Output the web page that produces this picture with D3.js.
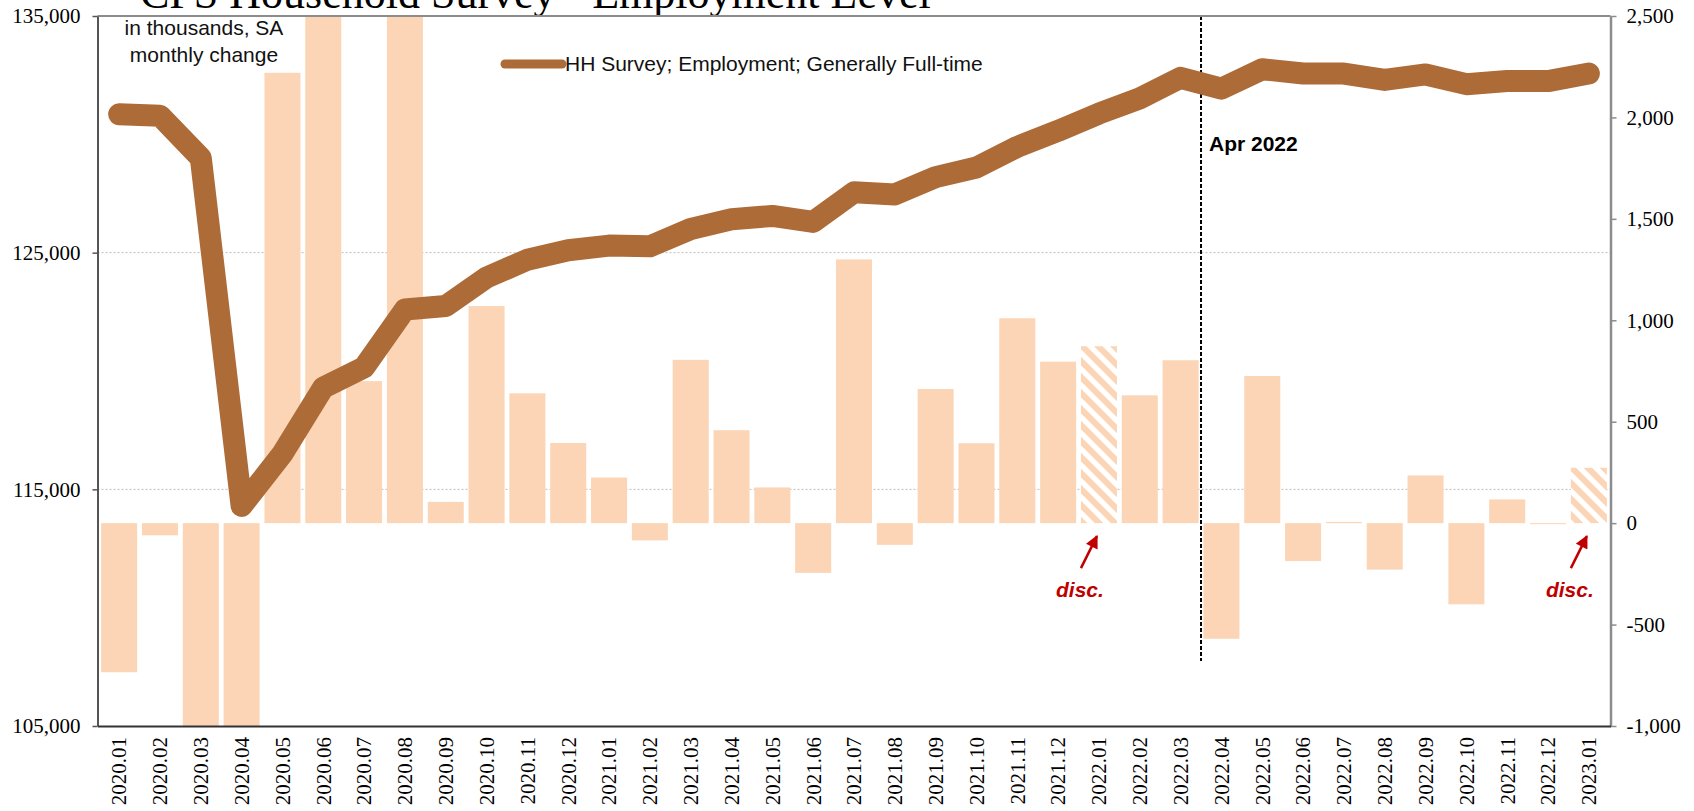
<!DOCTYPE html>
<html>
<head>
<meta charset="utf-8">
<script src="https://cdn.jsdelivr.net/npm/d3@7"></script>
<style>
  body { margin: 0; background: #fff; }
  svg { display: block; }
</style>
</head>
<body>
<script>
// months on the category axis
var months = ["2020.01","2020.02","2020.03","2020.04","2020.05","2020.06","2020.07","2020.08","2020.09","2020.10","2020.11","2020.12",
              "2021.01","2021.02","2021.03","2021.04","2021.05","2021.06","2021.07","2021.08","2021.09","2021.10","2021.11","2021.12",
              "2022.01","2022.02","2022.03","2022.04","2022.05","2022.06","2022.07","2022.08","2022.09","2022.10","2022.11","2022.12",
              "2023.01"];

// level, thousands (left axis)
var fullTime = [130850,130790,129000,114300,116500,119300,120150,122600,122750,123950,124700,125100,
                125300,125270,126000,126410,126550,126300,127550,127460,128190,128600,129470,130150,
                130880,131520,132390,131930,132750,132570,132570,132300,132530,132120,132250,132250,
                132570];

// monthly change, thousands (right axis) - 2020.03/04/06/08 run off the chart
var monthlyChange = [-735,-60,-1000,-1000,2220,2500,700,2500,105,1070,640,395,
                     225,-85,805,458,176,-245,1300,-107,661,394,1010,796,
                     872,630,803,-570,725,-187,6,-229,235,-400,117,-4,
                     273];

// months with a population-control discontinuity
var discMonths = ["2022.01","2023.01"];
var markerMonth = "2022.04";

var leftTicks = [105000,115000,125000,135000];
var rightTicks = [-1000,-500,0,500,1000,1500,2000,2500];
var gridTicks = [115000,125000];

var W = 1694, H = 811;
var plotL = 97.5, plotR = 1610.5, plotT = 16, plotB = 726;

var peach = "#FBD5B5", brown = "#AD6B37", red = "#C00000";

var svg = d3.select("body")
    .append("svg")
    .attr("width", W)
    .attr("height", H);

var defs = svg.append("defs");
var pat = defs.append("pattern")
    .attr("id", "hatch")
    .attr("patternUnits", "userSpaceOnUse")
    .attr("width", 16)
    .attr("height", 16);
pat.append("rect").attr("width", 16).attr("height", 16).attr("fill", "#fff");
pat.append("path")
    .attr("d", "M-4,-4L20,20M-4,12L4,20M12,-4L20,4")
    .attr("stroke", peach)
    .attr("stroke-width", 6);

defs.append("marker")
    .attr("id", "arrow")
    .attr("viewBox", "0 0 10 10")
    .attr("refX", 9)
    .attr("refY", 5)
    .attr("markerUnits", "userSpaceOnUse")
    .attr("markerWidth", 14)
    .attr("markerHeight", 13)
    .attr("orient", "auto")
    .append("path")
    .attr("d", "M0,0L10,5L0,10z")
    .attr("fill", red);

var x = d3.scaleBand()
    .domain(months)
    .range([plotL, plotR])
    .paddingInner(0.118)
    .paddingOuter(0.089);

var yL = d3.scaleLinear().domain([105000, 135000]).range([plotB, plotT]);
var yR = d3.scaleLinear().domain([-1000, 2500]).range([plotB, plotT]);

var commaFmt = function(d){ return d3.format(",")(d).replace("\u2212", "-"); };

// title (mostly above the page edge)
svg.append("text")
    .attr("x", 140)
    .attr("y", 8)
    .style("font-family", "'Liberation Serif', 'Times New Roman', serif")
    .style("font-size", "44px")
    .attr("fill", "#000")
    .text("CPS Household Survey - Employment Level");

// gridlines
svg.selectAll(".grid")
    .data(gridTicks)
    .enter()
    .append("line")
    .attr("x1", plotL).attr("x2", plotR)
    .attr("y1", d => yL(d)).attr("y2", d => yL(d))
    .attr("stroke", "#bdbdbd")
    .attr("stroke-width", 1)
    .attr("stroke-dasharray", "2,2");

var barData = months.map((m, i) => ({ m: m, v: monthlyChange[i] }));

svg.selectAll(".bar")
    .data(barData)
    .enter()
    .append("rect")
    .attr("class", "bar")
    .attr("x", d => x(d.m))
    .attr("width", x.bandwidth())
    .attr("y", d => yR(Math.max(0, d.v)))
    .attr("height", d => Math.max(1, Math.abs(yR(d.v) - yR(0))))
    .attr("fill", d => discMonths.indexOf(d.m) >= 0 ? "url(#hatch)" : peach);

// vertical marker between 2022.03 and 2022.04
var gap = x.step() - x.bandwidth();
var vx = x(markerMonth) - gap / 2;
svg.append("line")
    .attr("x1", vx).attr("x2", vx)
    .attr("y1", plotT).attr("y2", 661)
    .attr("stroke", "#000")
    .attr("stroke-width", 2)
    .attr("stroke-dasharray", "4,2");

svg.append("text")
    .attr("x", vx + 8)
    .attr("y", 151)
    .style("font-family", "'Liberation Sans', Arial, sans-serif")
    .style("font-weight", "bold")
    .style("font-size", "21px")
    .text("Apr 2022");

// top border
svg.append("line")
    .attr("x1", plotL).attr("x2", plotR)
    .attr("y1", plotT).attr("y2", plotT)
    .attr("stroke", "#8c8c8c")
    .attr("stroke-width", 2);

// left axis
var gL = svg.append("g")
    .attr("transform", "translate(" + plotL + ",0)")
    .call(d3.axisLeft(yL).tickValues(leftTicks).tickSize(5).tickSizeOuter(0).tickPadding(12).tickFormat(commaFmt));
gL.select(".domain").attr("stroke", "#555").attr("stroke-width", 2);
gL.selectAll(".tick line").attr("stroke", "#555").attr("stroke-width", 1.5);

// right axis
var gR = svg.append("g")
    .attr("transform", "translate(" + plotR + ",0)")
    .call(d3.axisRight(yR).tickValues(rightTicks).tickSize(6).tickSizeOuter(0).tickPadding(10).tickFormat(commaFmt));
gR.select(".domain").attr("stroke", "#8c8c8c").attr("stroke-width", 2.5);
gR.selectAll(".tick line").attr("stroke", "#8c8c8c").attr("stroke-width", 1.5);

// bottom axis with rotated month labels
var gB = svg.append("g")
    .attr("transform", "translate(0," + plotB + ")")
    .call(d3.axisBottom(x).tickSize(0).tickSizeOuter(0));
gB.select(".domain").attr("stroke", "#333").attr("stroke-width", 2);
gB.selectAll(".tick text")
    .attr("x", -11)
    .attr("y", 0)
    .attr("dy", "0.35em")
    .attr("transform", "rotate(-90)")
    .style("text-anchor", "end");

svg.selectAll(".tick text")
    .style("font-family", "'Liberation Serif', 'Times New Roman', serif")
    .style("font-size", "21px")
    .attr("fill", "#000");

// employment level line
var line = d3.line()
    .x((d, i) => x(months[i]) + x.bandwidth() / 2)
    .y(d => yL(d));

svg.append("path")
    .datum(fullTime)
    .attr("d", line)
    .attr("fill", "none")
    .attr("stroke", brown)
    .attr("stroke-width", 22)
    .attr("stroke-linejoin", "round")
    .attr("stroke-linecap", "round");

// legend
svg.append("line")
    .attr("x1", 505).attr("x2", 562)
    .attr("y1", 64).attr("y2", 64)
    .attr("stroke", brown)
    .attr("stroke-width", 9)
    .attr("stroke-linecap", "round");
svg.append("text")
    .attr("x", 565)
    .attr("y", 71)
    .style("font-family", "'Liberation Sans', Arial, sans-serif")
    .style("font-size", "21px")
    .attr("fill", "#111")
    .text("HH Survey; Employment; Generally Full-time");

// units note
var note = svg.append("text")
    .attr("text-anchor", "middle")
    .style("font-family", "'Liberation Sans', Arial, sans-serif")
    .style("font-size", "21px")
    .attr("fill", "#111");
note.append("tspan").attr("x", 204).attr("y", 35).text("in thousands, SA");
note.append("tspan").attr("x", 204).attr("y", 62).text("monthly change");

// "disc." annotations
discMonths.forEach(function(m){
    var cx = x(m) + x.bandwidth() / 2;
    var y0 = yR(0);
    svg.append("line")
        .attr("x1", cx - 18).attr("y1", y0 + 45)
        .attr("x2", cx - 2).attr("y2", y0 + 13)
        .attr("stroke", red)
        .attr("stroke-width", 2.5)
        .attr("marker-end", "url(#arrow)");
    svg.append("text")
        .attr("x", cx - 19)
        .attr("y", y0 + 74)
        .attr("text-anchor", "middle")
        .style("font-family", "'Liberation Sans', Arial, sans-serif")
        .style("font-weight", "bold")
        .style("font-style", "italic")
        .style("font-size", "21px")
        .attr("fill", red)
        .text("disc.");
});
</script>
</body>
</html>
